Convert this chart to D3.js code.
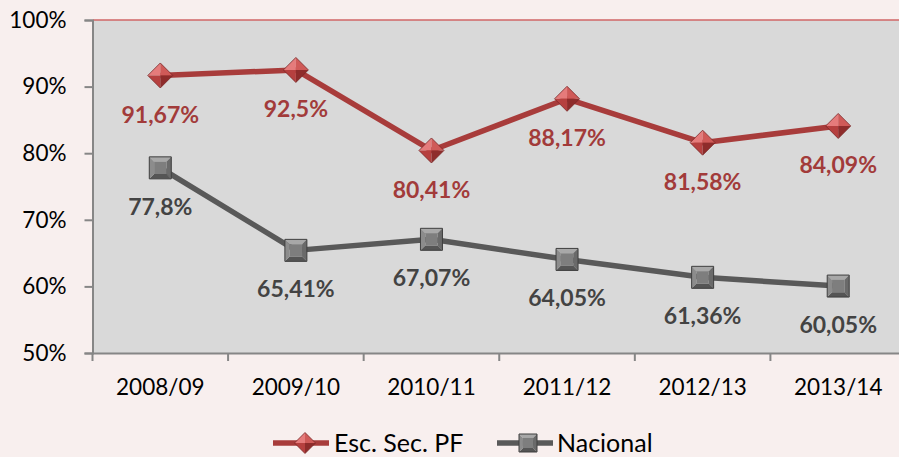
<!DOCTYPE html>
<html><head><meta charset="utf-8">
<script src="https://cdn.jsdelivr.net/npm/d3@7"></script>
<style>
html,body{margin:0;padding:0;background:#f8efee;}
svg{display:block;}
text{font-family:Lato,"Open Sans",sans-serif;}
</style></head>
<body>
<svg id="chart" width="899" height="457"></svg>
<script>
const categories = ["2008/09","2009/10","2010/11","2011/12","2012/13","2013/14"];
const seriesPF = [91.67, 92.5, 80.41, 88.17, 81.58, 84.09];
const seriesNacional = [77.8, 65.41, 67.07, 64.05, 61.36, 60.05];
const labelsPF = ["91,67%","92,5%","80,41%","88,17%","81,58%","84,09%"];
const labelsNacional = ["77,8%","65,41%","67,07%","64,05%","61,36%","60,05%"];
const yTicks = [50,60,70,80,90,100];
const seriesNames = ["Esc. Sec. PF","Nacional"];

const svg = d3.select("#chart");
const W = 899, H = 457;
svg.append("rect").attr("width",W).attr("height",H).attr("fill","#f8efee");

const pLeft = 92.5, pRight = 906, pTop = 20, pBottom = 353;
const x = d3.scaleBand().domain(categories).range([pLeft,pRight]);
const cx = c => x(c) + x.bandwidth()/2;
const y = d3.scaleLinear().domain([50,100]).range([pBottom,pTop]);

// plot area
svg.append("rect").attr("x",pLeft).attr("y",pTop).attr("width",pRight-pLeft).attr("height",pBottom-pTop).attr("fill","#d9d9d9");
// top line (100%)
svg.append("line").attr("x1",pLeft).attr("x2",W).attr("y1",y(100)).attr("y2",y(100))
  .attr("stroke","#d06666").attr("stroke-width",1.6);

// y axis
const yAxis = d3.axisLeft(y).tickValues(yTicks).tickFormat(d=>d+"%").tickSize(8).tickPadding(18);
const gy = svg.append("g").attr("transform",`translate(${pLeft},0)`).call(yAxis);
gy.select(".domain").attr("stroke","#868686").attr("stroke-width",2);
gy.selectAll(".tick line").attr("stroke","#868686").attr("stroke-width",2);
gy.selectAll(".tick text").attr("font-size",22.5).attr("fill","#000").attr("font-family","Lato");

// x axis
const xAxis = d3.axisBottom(x).tickSize(0).tickPadding(26);
const gx = svg.append("g").attr("transform",`translate(0,${pBottom})`).call(xAxis);
gx.select(".domain").attr("stroke","#868686").attr("stroke-width",2);
gx.selectAll(".tick text").attr("font-size",22.5).attr("fill","#000").attr("font-family","Lato");
// category boundary ticks
const bounds = categories.map(c=>x(c)).concat([pRight]);
gx.selectAll(".btick").data(bounds).enter().append("line")
  .attr("x1",d=>d).attr("x2",d=>d).attr("y1",0).attr("y2",8)
  .attr("stroke","#868686").attr("stroke-width",2);

function diamond(g, px, py, r){
  const T=[px,py-r], R=[px+r,py], B=[px,py+r], L=[px-r,py], C=[px,py];
  const faces = [[T,L,C,"#e57b7b"],[T,R,C,"#cf5a58"],[L,B,C,"#b6403f"],[R,B,C,"#8e2c2b"]];
  faces.forEach(f=>g.append("polygon").attr("points",[f[0],f[1],f[2]].map(p=>p.join(",")).join(" ")).attr("fill",f[3]));
  g.append("polygon").attr("points",[T,R,B,L].map(p=>p.join(",")).join(" ")).attr("fill","none").attr("stroke","#7a2626").attr("stroke-width",0.8);
}
function square(g, px, py, s){
  const h=s/2, i=s*0.22;
  const o=[[px-h,py-h],[px+h,py-h],[px+h,py+h],[px-h,py+h]];
  const n=[[px-h+i,py-h+i],[px+h-i,py-h+i],[px+h-i,py+h-i],[px-h+i,py+h-i]];
  const faces=[[o[0],o[1],n[1],n[0],"#a8a8a8"],[o[1],o[2],n[2],n[1],"#6a6a6a"],[o[2],o[3],n[3],n[2],"#555555"],[o[3],o[0],n[0],n[3],"#8c8c8c"]];
  faces.forEach(f=>g.append("polygon").attr("points",f.slice(0,4).map(p=>p.join(",")).join(" ")).attr("fill",f[4]));
  g.append("polygon").attr("points",n.map(p=>p.join(",")).join(" ")).attr("fill","#7e7e7e");
  g.append("polygon").attr("points",o.map(p=>p.join(",")).join(" ")).attr("fill","none").attr("stroke","#3f3f3f").attr("stroke-width",1);
}

const line = d3.line().x((d,i)=>cx(categories[i])).y(d=>y(d));
svg.append("path").datum(seriesPF).attr("d",line).attr("fill","none").attr("stroke","#a83c3b").attr("stroke-width",5.5).attr("stroke-linejoin","round");
svg.append("path").datum(seriesNacional).attr("d",line).attr("fill","none").attr("stroke","#595959").attr("stroke-width",5.5).attr("stroke-linejoin","round");

const mk = svg.append("g");
seriesPF.forEach((v,i)=>diamond(mk, cx(categories[i]), y(v), 12.5));
seriesNacional.forEach((v,i)=>square(mk, cx(categories[i]), y(v), 22));

// data labels
svg.append("g").selectAll("text").data(seriesPF).enter().append("text")
  .attr("x",(d,i)=>cx(categories[i])).attr("y",d=>y(d)+39).attr("dy","0.35em")
  .attr("text-anchor","middle").attr("font-size",23).attr("font-weight","bold").attr("fill","#a23b3a")
  .text((d,i)=>labelsPF[i]);
svg.append("g").selectAll("text").data(seriesNacional).enter().append("text")
  .attr("x",(d,i)=>cx(categories[i])).attr("y",d=>y(d)+39).attr("dy","0.35em")
  .attr("text-anchor","middle").attr("font-size",23).attr("font-weight","bold").attr("fill","#434343")
  .text((d,i)=>labelsNacional[i]);

// legend
const lg = svg.append("g");
const ly = 443;
lg.append("line").attr("x1",273).attr("x2",329).attr("y1",ly).attr("y2",ly).attr("stroke","#a83c3b").attr("stroke-width",5.5);
diamond(lg, 305, ly, 10.5);
lg.append("text").attr("x",334).attr("y",ly).attr("dy","0.36em").attr("font-size",25).attr("fill","#000").text(seriesNames[0]);
lg.append("line").attr("x1",497).attr("x2",553).attr("y1",ly).attr("y2",ly).attr("stroke","#595959").attr("stroke-width",5.5);
square(lg, 528, ly, 18);
lg.append("text").attr("x",557).attr("y",ly).attr("dy","0.36em").attr("font-size",25).attr("fill","#000").text(seriesNames[1]);
</script>
</body></html>
